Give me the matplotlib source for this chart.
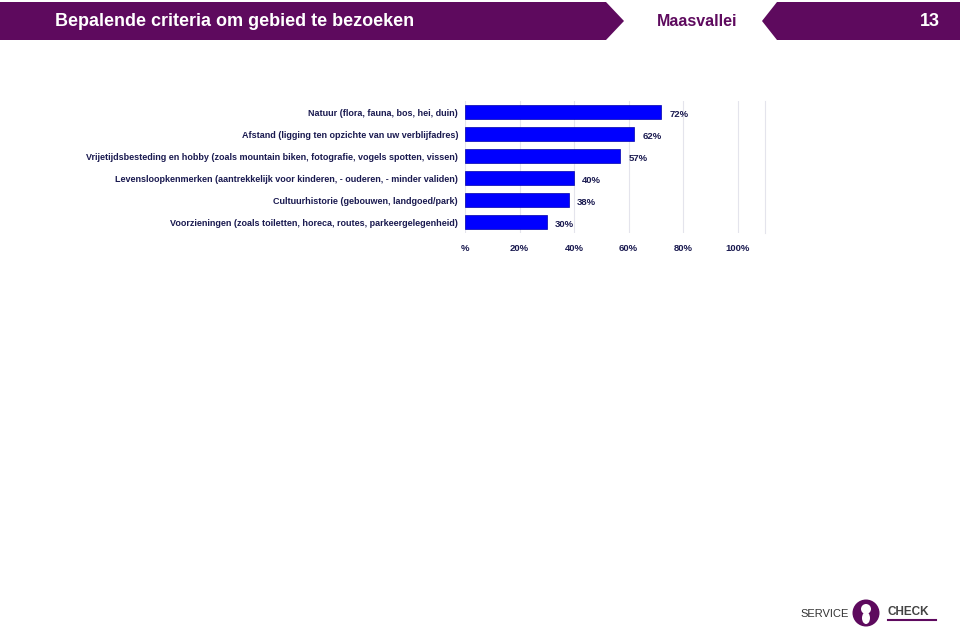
import matplotlib
matplotlib.use("Agg")
import matplotlib.pyplot as plt
import matplotlib.patches as mpatches
import numpy as np

categories = ["Natuur (flora, fauna, bos, hei, duin)",
              "Afstand (ligging ten opzichte van uw verblijfadres)",
              "Vrijetijdsbesteding en hobby (zoals mountain biken, fotografie, vogels spotten, vissen)",
              "Levensloopkenmerken (aantrekkelijk voor kinderen, - ouderen, - minder validen)",
              "Cultuurhistorie (gebouwen, landgoed/park)",
              "Voorzieningen (zoals toiletten, horeca, routes, parkeergelegenheid)"]
values = [72, 62, 57, 40, 38, 30]
xticks = [0, 20, 40, 60, 80, 100]
xticklabels = ["%", "20%", "40%", "60%", "80%", "100%"]

title = "Bepalende criteria om gebied te bezoeken"
region = "Maasvallei"
page = "13"

purple = "#5e0a5e"
txt = "#1a1a50"
W, H = 960, 629

plt.rcParams['font.family'] = ['Liberation Sans', 'DejaVu Sans']
fig = plt.figure(figsize=(W/100, H/100), dpi=100)

# chart
ax = fig.add_axes([465/W, 1-233/H, 300/W, 132/H])
y = np.arange(len(categories))
ax.barh(y, values, height=0.65, color="#0000ff", edgecolor="#0000aa", linewidth=0.5)
for yi, v in zip(y, values):
    ax.text(v + 3, yi + 0.1, f"{v}%", va="center", ha="left", fontsize=6.8,
            fontweight="bold", color=txt)
ax.set_yticks(y)
ax.set_yticklabels(categories, fontsize=6.5, fontweight="bold", color=txt)
ax.set_xticks(xticks)
ax.set_xticklabels(xticklabels, fontsize=6.8, fontweight="bold", color=txt)
ax.set_xlim(0, 110)
ax.set_ylim(len(categories) - 0.5, -0.5)
ax.tick_params(axis="y", length=0, pad=5)
ax.tick_params(axis="x", length=0, pad=8)
ax.grid(axis="x", color="#e4e4ec", linewidth=0.8)
ax.set_axisbelow(True)
for s in ["top", "bottom", "left"]:
    ax.spines[s].set_visible(False)
ax.spines["right"].set_color("#e4e4ec")

# header and footer
ov = fig.add_axes([0, 0, 1, 1], facecolor="none")
ov.set_xlim(0, W)
ov.set_ylim(H, 0)
ov.axis("off")
ov.add_patch(mpatches.Polygon([(0, 2), (606, 2), (624, 21), (606, 40), (0, 40)],
                              closed=True, color=purple, lw=0))
ov.add_patch(mpatches.Polygon([(777, 2), (960, 2), (960, 40), (777, 40), (762, 21)],
                              closed=True, color=purple, lw=0))
ov.text(55, 21, title, color="white", fontsize=13, fontweight="bold", va="center", ha="left")
ov.text(697, 21, region, color=purple, fontsize=11.5, fontweight="bold", va="center", ha="center")
ov.text(940, 21, page, color="white", fontsize=13, fontweight="bold", va="center", ha="right")

ov.text(800, 614, "SERVICE", color="#333333", fontsize=8, va="center", ha="left")
ov.add_patch(mpatches.Circle((866, 613), 13.5, color=purple, lw=0))
ov.add_patch(mpatches.Ellipse((866, 618), 8, 12, color="white", lw=0))
ov.add_patch(mpatches.Circle((866, 609), 5, color="white", lw=0))
ov.text(888, 612, "CHECK", color="#444444", fontsize=8.5, fontweight="bold", va="center", ha="left")
ov.plot([888, 936], [620, 620], color=purple, lw=1.5)

fig.savefig("out.png", dpi=100, facecolor="white")
